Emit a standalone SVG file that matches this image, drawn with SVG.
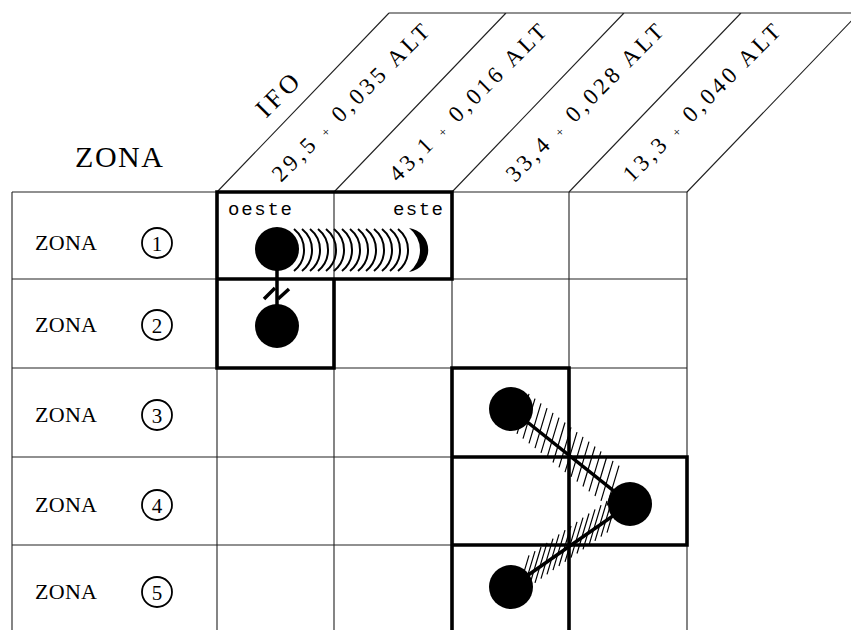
<svg xmlns="http://www.w3.org/2000/svg" width="851" height="630" viewBox="0 0 851 630">
<defs>
<style>
.thin{stroke:#222;stroke-width:1.1;fill:none}
.thick{stroke:#000;stroke-width:3.6;fill:none;stroke-linecap:square}
.lbl{font-family:"Liberation Serif",serif;fill:#000}
.mono{font-family:"Liberation Mono",monospace;fill:#000}
.dot{fill:#000}
.ring{fill:none;stroke:#000;stroke-width:1.8}
.wave{fill:none;stroke:#000;stroke-width:2}
.link{stroke:#000;stroke-width:3.5;fill:none}
.hatch{stroke:#000;stroke-width:1.2;fill:none}
</style>
</defs>
<rect width="851" height="630" fill="#fff"/>
<g id="grid" class="thin">
<path d="M12 192H687M12 279H687M12 368H687M12 457H687M12 545H687"/>
<path d="M12 192V630M217 192V630M334 192V630M452 192V630M569 192V630M687 192V630"/>
<path d="M217 192L389 13M334 192L506 13M452 192L624 13M569 192L741 13M687 192L859 13M389 13H851"/>
</g>
<g id="boxes" class="thick">
<path d="M217 192H452M217 192V368M452 192V279M217 279H452M334 279V368M217 368H334"/>
<path d="M452 368H569M452 368V630M569 368V630M452 457H687M687 457V545M452 545H687"/>
</g>
<g id="header">
<text class="lbl" x="75" y="167" font-size="30" textLength="88" lengthAdjust="spacing">ZONA</text>
<text class="lbl" transform="translate(266,119) rotate(-45)" font-size="26" textLength="50" lengthAdjust="spacing">IFO</text>
<text class="lbl" transform="translate(281,183) rotate(-45)" font-size="23" textLength="212" lengthAdjust="spacing">29,5 <tspan font-size="13">+</tspan> 0,035 ALT</text>
<text class="lbl" transform="translate(398,183) rotate(-45)" font-size="23" textLength="212" lengthAdjust="spacing">43,1 <tspan font-size="13">+</tspan> 0,016 ALT</text>
<text class="lbl" transform="translate(515,183) rotate(-45)" font-size="23" textLength="212" lengthAdjust="spacing">33,4 <tspan font-size="13">+</tspan> 0,028 ALT</text>
<text class="lbl" transform="translate(632,183) rotate(-45)" font-size="23" textLength="212" lengthAdjust="spacing">13,3 <tspan font-size="13">+</tspan> 0,040 ALT</text>
</g>
<g id="rows">
<g id="row1"><text class="lbl" x="35" y="250" font-size="22" textLength="62" lengthAdjust="spacing">ZONA</text><circle class="ring" cx="157" cy="243" r="15"/><text class="lbl" x="157" y="250.5" font-size="21" text-anchor="middle">1</text></g>
<g id="row2"><text class="lbl" x="35" y="332" font-size="22" textLength="62" lengthAdjust="spacing">ZONA</text><circle class="ring" cx="157" cy="325" r="15"/><text class="lbl" x="157" y="332.5" font-size="21" text-anchor="middle">2</text></g>
<g id="row3"><text class="lbl" x="35" y="422" font-size="22" textLength="62" lengthAdjust="spacing">ZONA</text><circle class="ring" cx="157" cy="415" r="15"/><text class="lbl" x="157" y="422.5" font-size="21" text-anchor="middle">3</text></g>
<g id="row4"><text class="lbl" x="35" y="512" font-size="22" textLength="62" lengthAdjust="spacing">ZONA</text><circle class="ring" cx="157" cy="505" r="15"/><text class="lbl" x="157" y="512.5" font-size="21" text-anchor="middle">4</text></g>
<g id="row5"><text class="lbl" x="35" y="599" font-size="22" textLength="62" lengthAdjust="spacing">ZONA</text><circle class="ring" cx="157" cy="592" r="15"/><text class="lbl" x="157" y="599.5" font-size="21" text-anchor="middle">5</text></g>
</g>
<g id="directions">
<text class="mono" x="228" y="215" font-size="19" textLength="64" lengthAdjust="spacing">oeste</text>
<text class="mono" x="393" y="215" font-size="19" textLength="50" lengthAdjust="spacing">este</text>
</g>
<g id="connectors">
<path class="wave" d="M294 229a27 27 0 0 1 0 42M302 229a27 27 0 0 1 0 42M310 229a27 27 0 0 1 0 42M318 229a27 27 0 0 1 0 42M326 229a27 27 0 0 1 0 42M334 229a27 27 0 0 1 0 42M342 229a27 27 0 0 1 0 42M350 229a27 27 0 0 1 0 42M358 229a27 27 0 0 1 0 42M366 229a27 27 0 0 1 0 42M374 229a27 27 0 0 1 0 42M382 229a27 27 0 0 1 0 42M390 229a27 27 0 0 1 0 42M398 229a27 27 0 0 1 0 42"/>
<path class="link" d="M277 249V326"/>
<path class="link" stroke-width="2" d="M264 299L275 288M278 299L289 289"/>
<path class="hatch" d="M517 433.8l12-40M523 438.6l12-40M529 443.4l12-40M535 448.2l12-40M541 452.9l12-40M547 457.7l12-40M553 462.5l12-40M559 467.3l12-40M565 472.1l12-40M571 476.9l12-40M577 481.7l12-40M583 486.5l12-40M589 491.3l12-40M595 496l12-40M601 500.8l12-40M607 505.6l12-40"/>
<path class="hatch" d="M517 595.3l12-40M523 591.1l12-40M529 587l12-40M535 582.8l12-40M541 578.6l12-40M547 574.4l12-40M553 570.2l12-40M559 566l12-40M565 561.9l12-40M571 557.7l12-40M577 553.5l12-40M583 549.3l12-40M589 545.1l12-40M595 540.9l12-40M601 536.7l12-40M607 532.6l12-40"/>
<path class="link" d="M511 409L630 504L511 587"/>
</g>
<g id="nodes">
<circle id="z1-oeste" class="dot" cx="277" cy="249" r="22"/>
<path id="z1-este" class="dot" d="M409 228A22.2 22.2 0 0 1 409 272A27.5 27.5 0 0 0 409 228Z"/>
<circle id="z2" class="dot" cx="277" cy="326" r="22"/>
<circle id="z3" class="dot" cx="511" cy="409" r="22"/>
<circle id="z4" class="dot" cx="630" cy="504" r="22"/>
<circle id="z5" class="dot" cx="511" cy="587" r="22"/>
</g>
</svg>
